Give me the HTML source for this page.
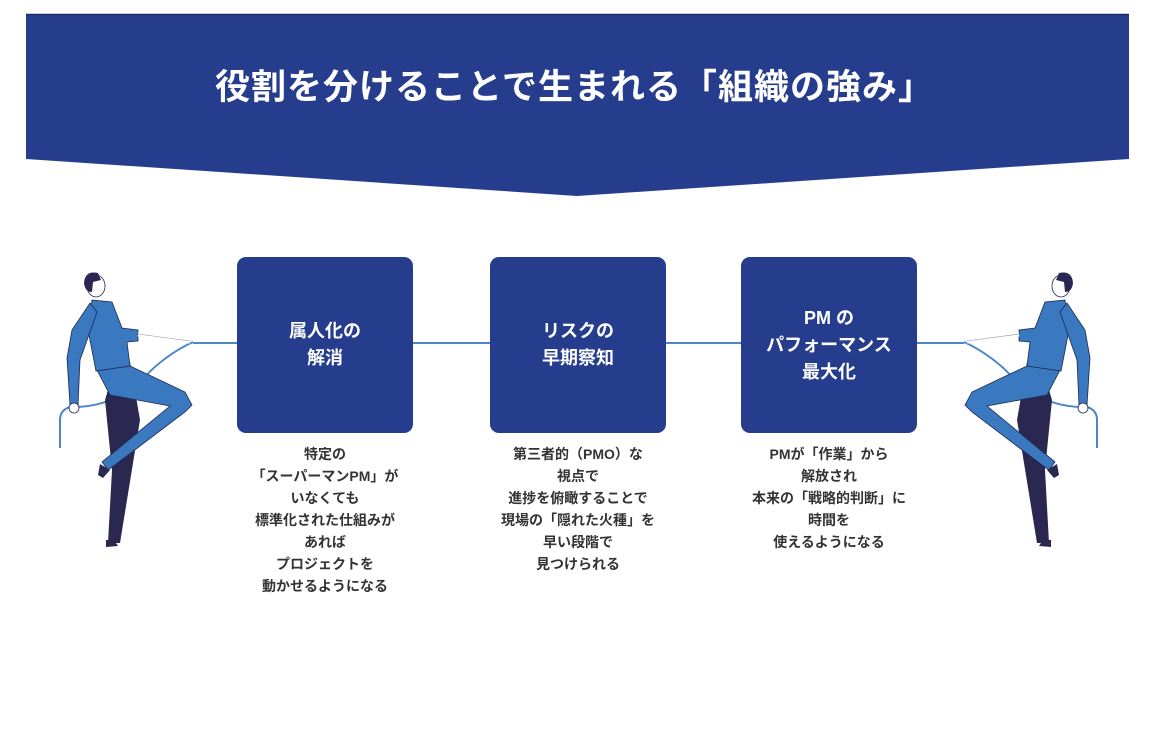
<!DOCTYPE html>
<html><head><meta charset="utf-8"><style>
body{margin:0;width:1149px;height:730px;background:#fff;position:relative;overflow:hidden;font-family:"Liberation Sans","Noto Sans CJK JP",sans-serif}
.t{position:absolute;left:0;width:1149px;top:62px;text-align:center;color:#fff;font-weight:bold;font-size:35px;line-height:52px;letter-spacing:1px}
.box{position:absolute;top:257px;width:176px;height:176px;background:#253d8c;border-radius:9px;color:#fff;font-weight:bold;font-size:18px;line-height:27px;display:flex;align-items:center;justify-content:center;text-align:center}
.cap{position:absolute;top:443px;width:260px;text-align:center;color:#333;font-weight:bold;font-size:14px;line-height:22px}
</style></head><body>
<svg width="1149" height="730" style="position:absolute;left:0;top:0">
<polygon points="26,14 1129,14 1129,159 577,196 26,159" fill="#253d8c"/>
<line x1="26" y1="14.5" x2="1129" y2="14.5" stroke="#1c2c66" stroke-width="1.5"/>
<line x1="193" y1="343" x2="964" y2="343" stroke="#4a86c8" stroke-width="2"/>
<g id="fig">
<path d="M193,342 C175,350 155,365 145,377 C130,395 100,408 70,407 Q60,410 60,420 L60,448" fill="none" stroke="#4a86c8" stroke-width="2"/>
<polygon points="117,360 130,362 140,420 120,543 108,543 112,470 105,400" fill="#2a2850"/>
<polygon points="97,370 128,365 185,392 192,405 185,412 115,465 108,470 102,462 170,406 110,395" fill="#3a78c0" stroke="#1d2a50" stroke-width="0.8"/>
<polygon points="92,300 112,302 122,328 138,330 138,341 127,342 130,366 96,371 88,330" fill="#3a78c0" stroke="#1d2a50" stroke-width="0.8"/>
<line x1="138" y1="334" x2="190" y2="341" stroke="#fff" stroke-width="5"/>
<line x1="138" y1="334" x2="190" y2="341" stroke="#1d2a50" stroke-width="0.6" opacity="0.5"/>
<polygon points="90,303 97,312 80,360 78,405 70,405 67,358 72,330" fill="#3a78c0" stroke="#1d2a50" stroke-width="0.8"/>
<circle cx="74" cy="408" r="5" fill="#fff" stroke="#1d2a50" stroke-width="0.8"/>
<ellipse cx="96" cy="286" rx="9" ry="11" fill="#fff" stroke="#1d2a50" stroke-width="0.8"/>
<path d="M84,283 Q85,270 98,273 L101,280 L93,282 L92,292 Q85,292 84,283Z" fill="#2a2850"/>
<polygon points="100,464 110,470 103,478 98,475" fill="#2a2850"/>
<polygon points="106,540 114,540 118,546 106,547" fill="#2a2850"/>
</g>
<use href="#fig" transform="translate(1157,0) scale(-1,1)"/>
</svg>
<div class="t">役割を分けることで生まれる「組織の強み」</div>
<div class="box" style="left:237px">属人化の<br>解消</div>
<div class="box" style="left:490px">リスクの<br>早期察知</div>
<div class="box" style="left:741px">PM の<br>パフォーマンス<br>最大化</div>
<div class="cap" style="left:195px">特定の<br>「スーパーマンPM」が<br>いなくても<br>標準化された仕組みが<br>あれば<br>プロジェクトを<br>動かせるようになる</div>
<div class="cap" style="left:448px">第三者的（PMO）な<br>視点で<br>進捗を俯瞰することで<br>現場の「隠れた火種」を<br>早い段階で<br>見つけられる</div>
<div class="cap" style="left:699px">PMが「作業」から<br>解放され<br>本来の「戦略的判断」に<br>時間を<br>使えるようになる</div>
</body></html>
